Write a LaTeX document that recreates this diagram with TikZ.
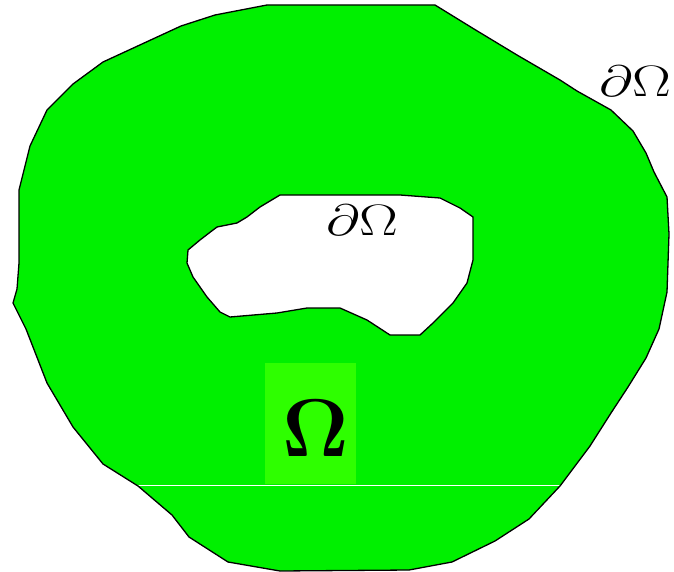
\RequirePackage{fix-cm}
\documentclass[tikz,border=0pt]{standalone}
\usepackage{graphicx}
\usetikzlibrary{positioning}
\definecolor{domGreen}{HTML}{00F000}
\definecolor{domPatch}{HTML}{2EFF00}

\begin{document}
\begin{tikzpicture}[x=1pt,y=-1pt,line cap=round,line join=round]
\useasboundingbox[fill=white] (0,0) rectangle (674,572);
\tikzset{edge/.style={draw=black,line width=1.3pt},lbl/.style={inner sep=0pt,text=black,anchor=base}}
% domain with its hole
\path[edge,fill=domGreen,even odd rule]
  (267,5) -- (435,5) -- (474,29) -- (517,55) -- (560,80) -- (577,91) -- (611,110)
  -- (633,131) -- (646,153) -- (654,172) -- (667,197) -- (669,234) -- (667,292)
  -- (659,329) -- (646,358) -- (628,387) -- (611,413) -- (590,446) -- (560,486)
  -- (529,519) -- (495,541) -- (452,562) -- (409,570) -- (280,571) -- (228,562)
  -- (189,537) -- (172,515) -- (138,486) -- (103,464) -- (73,427) -- (47,383)
  -- (26,329) -- (13,303) -- (17,289) -- (19,263) -- (19,190) -- (30,146)
  -- (47,110) -- (73,84) -- (103,62) -- (142,44) -- (181,26) -- (215,15) -- cycle
  (280,195) -- (400,195) -- (440,198) -- (460,208) -- (473,217) -- (473,260)
  -- (467,283) -- (453,303) -- (433,323) -- (420,335) -- (390,335) -- (367,320)
  -- (340,308) -- (307,308) -- (277,313) -- (230,317) -- (220,312) -- (207,297)
  -- (193,277) -- (187,263) -- (188,250) -- (200,240) -- (213,230) -- (217,227)
  -- (237,223) -- (247,217) -- (260,207) -- cycle;
\draw[white,line width=0.8pt] (139,485) -- (559,485);
\path[fill=domPatch] (265,363) rectangle (356,484);
% labels
\node[lbl,font=\fontsize{82}{90}\selectfont] (omega) at (316,456) {$\mathbf{\Omega}$};
\node[lbl,fill=white,inner ysep=3pt,font=\fontsize{44}{50}\selectfont] (innerBd) at (362,235) {\scalebox{1.32}[1]{$\partial\Omega$}};
\node[lbl,font=\fontsize{44}{50}\selectfont] (outerBd) at (635,97) {\scalebox{1.32}[1]{$\partial\Omega$}};
\end{tikzpicture}
\end{document}
